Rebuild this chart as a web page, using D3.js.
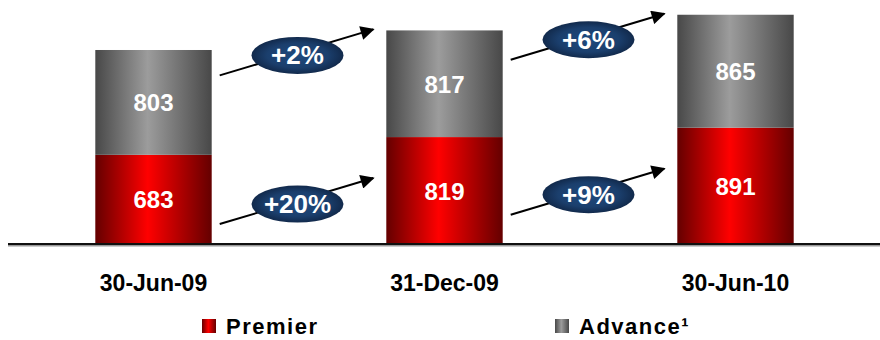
<!DOCTYPE html>
<html>
<head>
<meta charset="utf-8">
<script src="https://cdn.jsdelivr.net/npm/d3@7"></script>
<style>
  body { margin: 0; background: #ffffff; }
  svg { display: block; }
</style>
</head>
<body>
<div id="chart"></div>
<script>
var width = 880;
var height = 340;

// chart data
var categories = ['30-Jun-09', '31-Dec-09', '30-Jun-10'];
var premier = [683, 819, 891];
var advance = [803, 817, 865];
var premierGrowth = ['+20%', '+9%'];
var advanceGrowth = ['+2%', '+6%'];
var legendLabels = ['Premier', 'Advance\u00b9'];

var svg = d3.select('#chart').append('svg')
    .attr('width', width)
    .attr('height', height);

var defs = svg.append('defs');

// horizontal "cylinder" gradients for the bars
function barGradient(id, edge, mid) {
    var g = defs.append('linearGradient').attr('id', id)
        .attr('x1', '0%').attr('x2', '100%').attr('y1', '0%').attr('y2', '0%');
    g.append('stop').attr('offset', '0%').attr('stop-color', edge);
    g.append('stop').attr('offset', '45%').attr('stop-color', mid);
    g.append('stop').attr('offset', '100%').attr('stop-color', edge);
}
barGradient('redGrad', '#640000', '#ff0000');
barGradient('grayGrad', '#484848', '#9c9c9c');

var oval = defs.append('radialGradient').attr('id', 'ovalGrad')
    .attr('cx', '50%').attr('cy', '50%').attr('r', '60%');
oval.append('stop').attr('offset', '0%').attr('stop-color', '#1f4a7e');
oval.append('stop').attr('offset', '55%').attr('stop-color', '#1b3f6d');
oval.append('stop').attr('offset', '100%').attr('stop-color', '#0c1d38');

defs.append('marker').attr('id', 'arrowHead')
    .attr('viewBox', '0 0 10 10')
    .attr('refX', 9).attr('refY', 5)
    .attr('markerUnits', 'userSpaceOnUse')
    .attr('markerWidth', 17).attr('markerHeight', 14)
    .attr('orient', 'auto')
  .append('path')
    .attr('d', 'M0,0 L10,5 L0,10 z')
    .attr('fill', '#000');

var x = d3.scaleBand()
    .domain(categories)
    .range([8, 881])
    .paddingInner(0.6)
    .paddingOuter(0.3);

var y = d3.scaleLinear()
    .domain([0, 1800])
    .range([244, 9]);

var bw = x.bandwidth();

var rows = categories.map(function(c, i) {
    return { cat: c, premier: premier[i], advance: advance[i], total: premier[i] + advance[i] };
});

// premier segments
var bars = svg.append('g');
bars.selectAll('.prem').data(rows).enter().append('rect')
    .attr('class', 'prem')
    .attr('x', function(d) { return x(d.cat); })
    .attr('y', function(d) { return y(d.premier); })
    .attr('width', bw)
    .attr('height', function(d) { return y(0) - y(d.premier); })
    .attr('fill', 'url(#redGrad)');

bars.selectAll('.adv').data(rows).enter().append('rect')
    .attr('class', 'adv')
    .attr('x', function(d) { return x(d.cat); })
    .attr('y', function(d) { return y(d.total); })
    .attr('width', bw)
    .attr('height', function(d) { return y(d.premier) - y(d.total); })
    .attr('fill', 'url(#grayGrad)');

var valueFont = 'Liberation Sans, Arial, sans-serif';

bars.selectAll('.premLbl').data(rows).enter().append('text')
    .attr('x', function(d) { return x(d.cat) + bw / 2; })
    .attr('y', function(d) { return (y(0) + y(d.premier)) / 2 + 9; })
    .attr('text-anchor', 'middle')
    .style('font-family', valueFont)
    .style('font-weight', 'bold')
    .style('font-size', '24px')
    .style('fill', '#fff')
    .text(function(d) { return d.premier; });

bars.selectAll('.advLbl').data(rows).enter().append('text')
    .attr('x', function(d) { return x(d.cat) + bw / 2; })
    .attr('y', function(d) { return (y(d.premier) + y(d.total)) / 2 + 9; })
    .attr('text-anchor', 'middle')
    .style('font-family', valueFont)
    .style('font-weight', 'bold')
    .style('font-size', '24px')
    .style('fill', '#fff')
    .text(function(d) { return d.advance; });

// baseline
svg.append('line')
    .attr('x1', 8).attr('x2', 880)
    .attr('y1', y(0) + 1.5).attr('y2', y(0) + 1.5)
    .attr('stroke', '#999').attr('stroke-width', 2);
svg.append('line')
    .attr('x1', 8).attr('x2', 880)
    .attr('y1', y(0)).attr('y2', y(0))
    .attr('stroke', '#111').attr('stroke-width', 2);

// category labels
svg.append('g').selectAll('text').data(categories).enter().append('text')
    .attr('x', function(d) { return x(d) + bw / 2; })
    .attr('y', 291)
    .attr('text-anchor', 'middle')
    .style('font-family', valueFont)
    .style('font-weight', 'bold')
    .style('font-size', '23px')
    .style('fill', '#000')
    .text(function(d) { return d; });

// growth arrows with oval badges
function growthArrow(i, label, yEnd) {
    var x0 = x(categories[i]) + bw + 8;
    var x1 = x(categories[i + 1]) - 13;
    var y1 = yEnd;
    var y0 = yEnd + 46;
    var g = svg.append('g');
    g.append('line')
        .attr('x1', x0).attr('y1', y0)
        .attr('x2', x1).attr('y2', y1)
        .attr('stroke', '#000').attr('stroke-width', 2)
        .attr('marker-end', 'url(#arrowHead)');
    var cx = (x0 + x1) / 2 + 1;
    var cy = (y0 + y1) / 2 + 3;
    g.append('ellipse')
        .attr('cx', cx).attr('cy', cy)
        .attr('rx', 46).attr('ry', 18.5)
        .attr('fill', 'url(#ovalGrad)');
    g.append('text')
        .attr('x', cx).attr('y', cy + 9)
        .attr('text-anchor', 'middle')
        .style('font-family', valueFont)
        .style('font-weight', 'bold')
        .style('font-size', '26px')
        .style('fill', '#fff')
        .text(label);
}

advanceGrowth.forEach(function(lbl, i) {
    growthArrow(i, lbl, y(rows[i + 1].total) - 1);
});
premierGrowth.forEach(function(lbl, i) {
    growthArrow(i, lbl, y(rows[i + 1].premier) + 41);
});

// legend
var legend = svg.append('g');
var legendX = [202, 555];
var legendFill = ['url(#redGrad)', 'url(#grayGrad)'];
legendLabels.forEach(function(lbl, i) {
    legend.append('rect')
        .attr('x', legendX[i]).attr('y', 319)
        .attr('width', 14).attr('height', 14)
        .attr('fill', legendFill[i]);
    legend.append('text')
        .attr('x', legendX[i] + 24).attr('y', 334)
        .style('font-family', valueFont)
        .style('font-weight', 'bold')
        .style('font-size', '22px')
        .style('letter-spacing', '1.5px')
        .style('fill', '#000')
        .text(lbl);
});
</script>
</body>
</html>
